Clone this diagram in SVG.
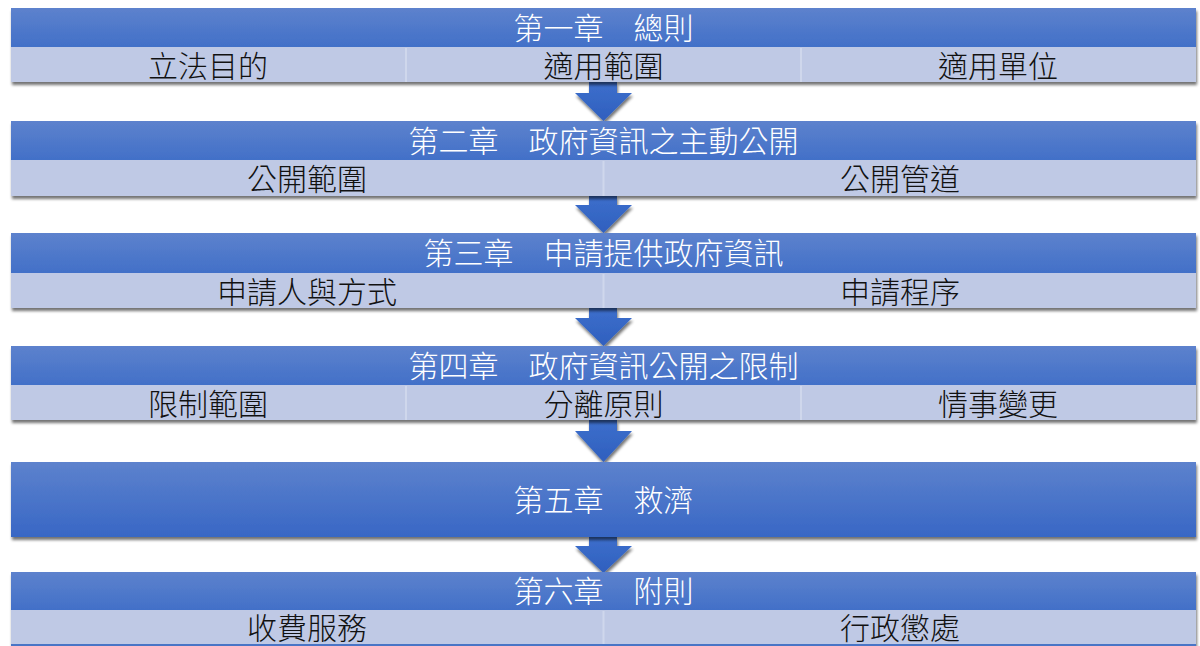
<svg xmlns="http://www.w3.org/2000/svg" width="1200" height="646" viewBox="0 0 1200 646">
<defs>
<linearGradient id="hg" x1="0" y1="0" x2="0" y2="1">
<stop offset="0" stop-color="#5d82cd"/>
<stop offset="1" stop-color="#4270c8"/>
</linearGradient>
<linearGradient id="bg5" x1="0" y1="0" x2="0" y2="1">
<stop offset="0" stop-color="#5d82cd"/>
<stop offset="1" stop-color="#3867c5"/>
</linearGradient>
<linearGradient id="ag" x1="0" y1="0" x2="0" y2="1">
<stop offset="0" stop-color="#3d6fcc"/>
<stop offset="1" stop-color="#2f5fbe"/>
</linearGradient>
<filter id="sh" x="-5%" y="-20%" width="110%" height="150%">
<feGaussianBlur in="SourceAlpha" stdDeviation="1.8"/>
<feOffset dx="1" dy="3" result="b"/>
<feComponentTransfer><feFuncA type="linear" slope="0.55"/></feComponentTransfer>
<feMerge><feMergeNode/><feMergeNode in="SourceGraphic"/></feMerge>
</filter>
</defs>
<style>
.hd{fill:url(#hg)}
.sb{fill:#bfc9e5}
.dv{stroke:#cfd7ec;stroke-width:2}
.ht{font-family:"Noto Sans CJK TC","Noto Sans CJK SC",sans-serif;font-size:30px;fill:#ffffff;text-anchor:middle;dominant-baseline:central;font-weight:300}
.st{font-family:"Noto Sans CJK TC","Noto Sans CJK SC",sans-serif;font-size:30px;fill:#111111;text-anchor:middle;dominant-baseline:central;font-weight:300}
.ar{fill:url(#ag)}
</style>
<rect width="1200" height="646" fill="#ffffff"/>
<g id="connectors" filter="url(#sh)">
<path class="ar" d="M589,82 H617 V93 H632 L603.5,121 L575,93 H589 Z"/>
<path class="ar" d="M589,196 H617 V205 H632 L603.5,233 L575,205 H589 Z"/>
<path class="ar" d="M589,308 H617 V318 H632 L603.5,346 L575,318 H589 Z"/>
<path class="ar" d="M589,420 H617 V431 H632 L603.5,462 L575,431 H589 Z"/>
<path class="ar" d="M589,537 H617 V546 H632 L603.5,573 L575,546 H589 Z"/>
</g>
<g id="ch1">
<g filter="url(#sh)"><rect class="hd" x="11" y="8" width="1185" height="39"/><rect class="sb" x="11" y="47" width="1185" height="35"/></g>
<line class="dv" x1="406" y1="48" x2="406" y2="82"/><line class="dv" x1="801" y1="48" x2="801" y2="82"/>
<text class="ht" x="603.5" y="26">第一章　總則</text>
<text class="st" x="208" y="64">立法目的</text>
<text class="st" x="603.5" y="64">適用範圍</text>
<text class="st" x="998" y="64">適用單位</text>
</g>
<g id="ch2">
<g filter="url(#sh)"><rect class="hd" x="11" y="121" width="1185" height="39"/><rect class="sb" x="11" y="160" width="1185" height="36"/></g>
<line class="dv" x1="603.5" y1="161" x2="603.5" y2="196"/>
<text class="ht" x="603.5" y="139">第二章　政府資訊之主動公開</text>
<text class="st" x="307" y="177">公開範圍</text>
<text class="st" x="900" y="177">公開管道</text>
</g>
<g id="ch3">
<g filter="url(#sh)"><rect class="hd" x="11" y="233" width="1185" height="40"/><rect class="sb" x="11" y="273" width="1185" height="35"/></g>
<line class="dv" x1="603.5" y1="274" x2="603.5" y2="308"/>
<text class="ht" x="603.5" y="251">第三章　申請提供政府資訊</text>
<text class="st" x="307" y="290">申請人與方式</text>
<text class="st" x="900" y="290">申請程序</text>
</g>
<g id="ch4">
<g filter="url(#sh)"><rect class="hd" x="11" y="346" width="1185" height="39"/><rect class="sb" x="11" y="385" width="1185" height="35"/></g>
<line class="dv" x1="406" y1="386" x2="406" y2="420"/><line class="dv" x1="801" y1="386" x2="801" y2="420"/>
<text class="ht" x="603.5" y="364">第四章　政府資訊公開之限制</text>
<text class="st" x="208" y="402">限制範圍</text>
<text class="st" x="603.5" y="402">分離原則</text>
<text class="st" x="998" y="402">情事變更</text>
</g>
<g id="ch5">
<rect x="11" y="462" width="1185" height="75" fill="url(#bg5)" filter="url(#sh)"/>
<text class="ht" x="603.5" y="498">第五章　救濟</text>
</g>
<g id="ch6">
<g filter="url(#sh)"><rect class="hd" x="11" y="572" width="1185" height="38"/><rect class="sb" x="11" y="610" width="1185" height="34"/><rect x="11" y="644" width="1185" height="2" fill="#4a74c6"/></g>
<line class="dv" x1="603.5" y1="611" x2="603.5" y2="644"/>
<text class="ht" x="603.5" y="589">第六章　附則</text>
<text class="st" x="307" y="626">收費服務</text>
<text class="st" x="900" y="626">行政懲處</text>
</g>
</svg>
